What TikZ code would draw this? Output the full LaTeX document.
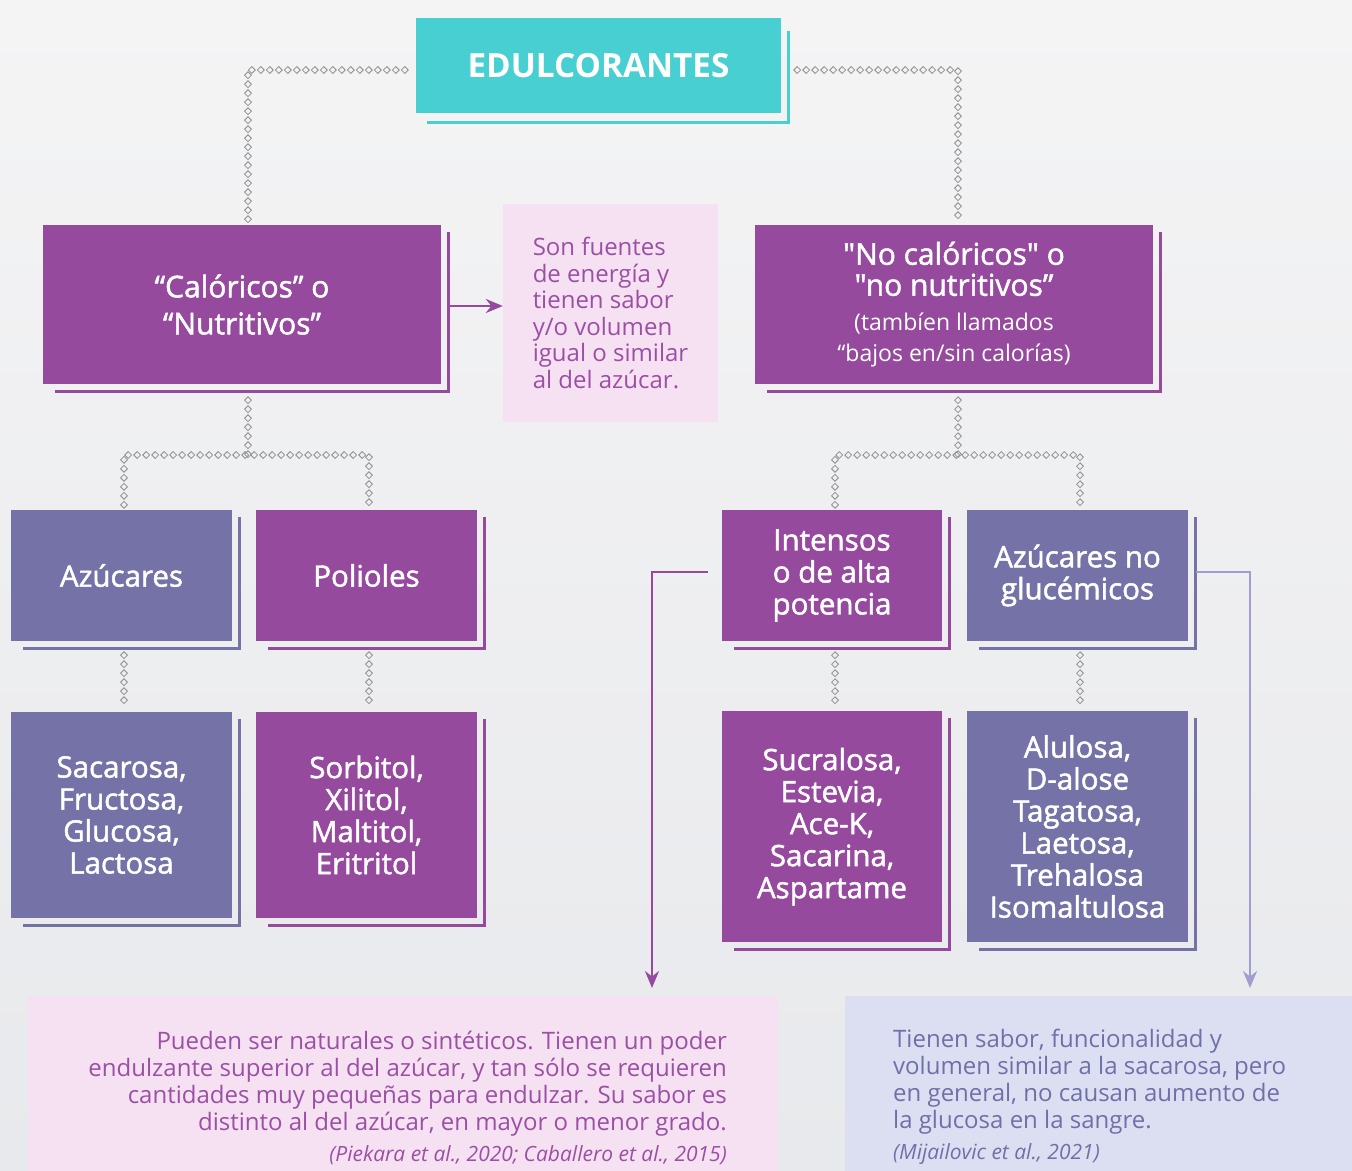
\documentclass[tikz,border=0pt]{standalone}
\usepackage{fontspec}
\setmainfont{Open Sans}
\newfontfamily\semib[FakeBold=1.6]{Open Sans}
\newfontfamily\regf{Open Sans}
\usetikzlibrary{arrows.meta,decorations.markings,calc}
\definecolor{cteal}{HTML}{48CFD1}
\definecolor{cpur}{HTML}{954A9E}
\definecolor{cblu}{HTML}{7472A6}
\definecolor{cpink}{HTML}{F5E1F2}
\definecolor{clav}{HTML}{DCDFF2}
\definecolor{cnotep}{HTML}{9B4FA5}
\definecolor{cnoteb}{HTML}{7070A8}
\definecolor{cgray}{HTML}{8E8E8E}
\definecolor{carrb}{HTML}{A09DD0}
\definecolor{cbgt}{HTML}{F4F4F5}
\definecolor{cbgb}{HTML}{E8E9EC}
\newcommand\shadowL[2]{\draw[#2,line width=2.6pt] ($(#1.north east)+(7.5,7)$) |- ($(#1.south west)+(12,7)$);}
\begin{document}
\begin{tikzpicture}[x=1pt,y=-1pt,
  box/.style={rectangle, inner sep=0pt, align=center, text=white, font=\semib\fontsize{29.5}{32}\selectfont},
  pbox/.style={box, fill=cpur},
  bbox/.style={box, fill=cblu},
  diachain/.style={decoration={markings, mark=between positions 0 and 1 step 9pt with {\draw[cgray, line width=0.8pt] (-3.4pt,0pt)--(0pt,3.4pt)--(3.4pt,0pt)--(0pt,-3.4pt)--cycle;}}, decorate},
  parrow/.style={cpur, line width=2.6pt, -{Stealth[length=17pt,width=14pt]}},
  barrow/.style={carrb, line width=2.6pt, -{Stealth[length=17pt,width=14pt]}},
  notetext/.style={inner sep=0pt, font=\regf\fontsize{24}{27}\selectfont}
]
\clip (0,0) rectangle (1352,1170);
\shade[top color=cbgt, bottom color=cbgb] (0,0) rectangle (1352,1170);

% title
\node[box, fill=cteal, minimum width=365, minimum height=95, font=\bfseries\fontsize{33.3}{40}\selectfont] (title) at (598.5,65.5) {EDULCORANTES};
\draw[cteal, line width=2.6pt] ($(title.north east)+(7,13)$) |- ($(title.south west)+(11,9)$);

% level 1
\node[pbox, minimum width=398, minimum height=159, font=\semib\fontsize{30}{37}\selectfont] (cal) at (242,304.5) {“Calóricos” o\\“Nutritivos”};
\shadowL{cal}{cpur}
\node[rectangle, fill=cpink, minimum width=215, minimum height=218, inner sep=0pt, align=left, text=cnotep, font=\regf\fontsize{24}{26.6}\selectfont] (info) at (610.5,313) {Son fuentes\\de energía y\\tienen sabor\\y/o volumen\\igual o similar\\al del azúcar.};
\node[pbox, minimum width=398, minimum height=159, font=\semib\fontsize{30}{31}\selectfont] (nocal) at (954,304.5) {"No calóricos" o\\"no nutritivos”\\[4pt]\regf\fontsize{23}{29}\selectfont (tambíen llamados\\\regf\fontsize{23}{29}\selectfont “bajos en/sin calorías)};
\shadowL{nocal}{cpur}

% level 2
\node[bbox, minimum width=221, minimum height=131] (azu) at (121.5,575.5) {Azúcares};
\shadowL{azu}{cblu}
\node[pbox, minimum width=221, minimum height=131] (pol) at (366.5,575.5) {Polioles};
\shadowL{pol}{cpur}
\node[pbox, minimum width=220, minimum height=131] (int) at (832,575.5) {Intensos\\o de alta\\potencia};
\shadowL{int}{cpur}
\node[bbox, minimum width=221, minimum height=131] (nog) at (1077.5,575.5) {Azúcares no\\glucémicos};
\shadowL{nog}{cblu}

% level 3
\node[bbox, minimum width=221, minimum height=206] (sac) at (121.5,815) {Sacarosa,\\Fructosa,\\Glucosa,\\Lactosa};
\shadowL{sac}{cblu}
\node[pbox, minimum width=221, minimum height=206] (sor) at (366.5,815) {Sorbitol,\\Xilitol,\\Maltitol,\\Eritritol};
\shadowL{sor}{cpur}
\node[pbox, minimum width=220, minimum height=231] (suc) at (832,826.5) {Sucralosa,\\Estevia,\\Ace-K,\\Sacarina,\\Aspartame};
\shadowL{suc}{cpur}
\node[bbox, minimum width=221, minimum height=231] (alu) at (1077.5,826.5) {Alulosa,\\D-alose\\Tagatosa,\\Laetosa,\\Trehalosa\\Isomaltulosa};
\shadowL{alu}{cblu}

% notes
\node[rectangle, fill=cpink, minimum width=750, minimum height=202, inner sep=0pt] (note1box) at (403,1097) {};
\node[notetext, anchor=north east, align=right, text=cnotep] (note1) at (727,1031) {Pueden ser naturales o sintéticos. Tienen un poder\\endulzante superior al del azúcar, y tan sólo se requieren\\cantidades muy pequeñas para endulzar. Su sabor es\\distinto al del azúcar, en mayor o menor grado.\\[4pt]\itshape\fontsize{21}{24}\selectfont (Piekara et al., 2020; Caballero et al., 2015)};
\node[rectangle, fill=clav, minimum width=530, minimum height=202, inner sep=0pt] (note2box) at (1110,1097) {};
\node[notetext, anchor=north west, align=left, text=cnoteb] (note2) at (893,1029) {Tienen sabor, funcionalidad y\\volumen similar a la sacarosa, pero\\en general, no causan aumento de\\la glucosa en la sangre.\\[4pt]\itshape\fontsize{21}{24}\selectfont (Mijailovic et al., 2021)};

% chains
\draw[diachain] ($(title.west)+(-11,4.5)$) -| ($(cal.north)+(6,-3)$);
\draw[diachain] ($(title.east)+(16,4.5)$) -| ($(nocal.north)+(4,-3)$);
\coordinate (jL) at (248,455);
\coordinate (jR) at (958,455);
\draw[diachain] ($(cal.south)+(6,16)$) -- (jL);
\draw[diachain] ($(azu.north)+(2.5,-5)$) |- (jL) -| ($(pol.north)+(2.5,-5)$);
\draw[diachain] ($(nocal.south)+(4,16)$) -- (jR);
\draw[diachain] ($(int.north)+(3,-5)$) |- (jR) -| ($(nog.north)+(2.5,-5)$);
\draw[diachain] ($(azu.south)+(2.5,14)$) -- ($(sac.north)+(2.5,-9)$);
\draw[diachain] ($(pol.south)+(2.5,14)$) -- ($(sor.north)+(2.5,-9)$);
\draw[diachain] ($(int.south)+(3,14)$) -- ($(suc.north)+(3,-8)$);
\draw[diachain] ($(nog.south)+(2.5,14)$) -- ($(alu.north)+(2.5,-8)$);

% arrows
\coordinate (s0) at ($(cal.east)+(9,1.5)$);
\draw[parrow] (s0) -- (s0 -| info.west);
\coordinate (a1) at (652,988);
\coordinate (a2) at (1250,988);
\draw[parrow] ($(int.west)+(-14,-3.5)$) -| (a1);
\draw[barrow] ($(nog.east)+(8,-3.5)$) -| (a2);
\end{tikzpicture}
\end{document}
